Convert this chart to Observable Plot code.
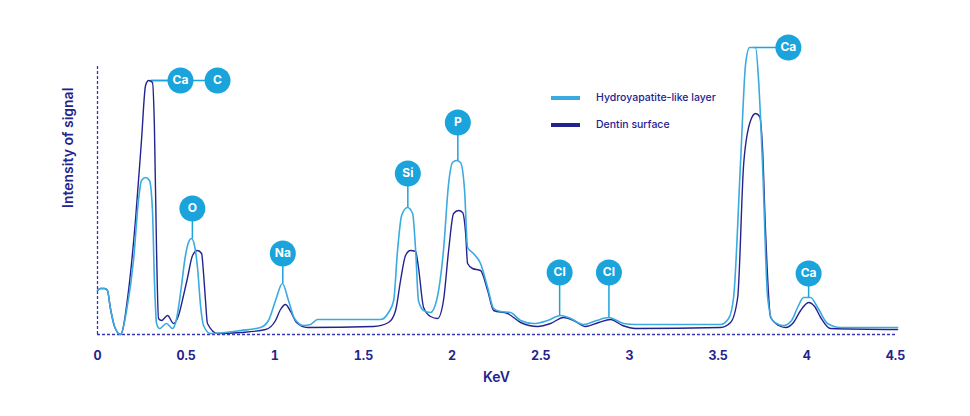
<!DOCTYPE html>
<html>
<head>
<meta charset="utf-8">
<script src="https://cdn.jsdelivr.net/npm/d3@7"></script>
<script src="https://cdn.jsdelivr.net/npm/@observablehq/plot@0.6"></script>
<style>
  html, body { margin: 0; padding: 0; background: #fff; }
  #wrap { position: relative; width: 970px; height: 416px; font-family: Inter, "Open Sans", sans-serif; }
  #legend { position: absolute; left: 551px; top: 84px; font-size: 10.5px; color: #23238f; font-weight: 500; }
  .item { display: flex; align-items: center; height: 27px; }
  .sw { width: 29px; height: 4px; margin-right: 16px; }
</style>
</head>
<body>
<div id="wrap"><div id="legend"></div></div>
<script>
// ---- data ----
const seriesNames = ["Hydroyapatite-like layer", "Dentin surface"];
const seriesColors = ["#3aaae0", "#23238f"];

const lightKeV = [0,0.017,0.039,0.056,0.073,0.096,0.130,0.164,0.203,0.231,0.248,0.271,0.293,0.310,0.321,0.333,0.350,0.389,0.423,0.446,0.468,0.496,0.513,0.530,0.547,0.564,0.581,0.598,0.637,0.807,0.919,0.964,1.004,1.043,1.077,1.111,1.162,1.201,1.241,1.596,1.641,1.670,1.692,1.715,1.748,1.777,1.794,1.810,1.839,1.878,1.912,1.951,1.980,2.002,2.025,2.047,2.070,2.087,2.120,2.160,2.200,2.234,2.273,2.329,2.386,2.459,2.538,2.611,2.668,2.741,2.814,2.882,2.967,3.034,3.514,3.559,3.587,3.626,3.655,3.677,3.711,3.728,3.750,3.779,3.807,3.869,3.914,3.948,3.982,4.021,4.061,4.117,4.191,4.512];
const lightVal = [44,46,46,44,26,8,0,24,74,134,154,157,154,124,54,11,6,11,6,16,41,79,92,96,89,67,29,9,1,4,7,14,34,51,34,16,9,10,15,15,22,34,84,119,127,121,84,34,24,22,34,84,151,172,174,172,144,87,81,71,47,26,23,22,14,11,14,19,16,10,14,17,11,10,10,16,37,171,271,287,287,254,171,37,14,9,14,27,37,37,27,11,7,7];

const darkKeV = [0,0.017,0.039,0.056,0.073,0.096,0.130,0.175,0.214,0.248,0.271,0.288,0.310,0.321,0.333,0.344,0.361,0.395,0.429,0.457,0.485,0.508,0.536,0.564,0.587,0.598,0.609,0.620,0.677,0.807,0.948,1.004,1.032,1.060,1.089,1.122,1.184,1.557,1.641,1.681,1.709,1.737,1.765,1.794,1.810,1.839,1.878,1.918,1.951,1.980,2.008,2.036,2.059,2.076,2.087,2.115,2.160,2.200,2.234,2.313,2.386,2.482,2.555,2.628,2.685,2.752,2.826,2.893,2.961,3.034,3.514,3.570,3.610,3.644,3.683,3.711,3.734,3.750,3.767,3.796,3.841,3.880,3.925,3.965,4.010,4.044,4.078,4.134,4.512];
const darkVal = [44,46,46,44,26,8,0,44,114,194,249,254,252,207,84,16,14,19,11,19,39,57,79,84,81,61,34,11,1,2,5,14,25,30,23,12,7,8,12,24,54,79,84,83,67,27,18,16,34,84,121,124,122,101,71,66,64,44,24,21,12,8,11,17,14,8,12,15,9,6,7,12,37,171,214,221,218,187,104,17,9,7,12,24,32,28,17,6,5];

const xTicks = [0,0.5,1,1.5,2,2.5,3,3.5,4,4.5];

// element labels: circle centre and the peak the stem starts from
const elemNames = ["Ca","C","O","Na","Si","P","Cl","Cl","Ca","Ca"];
const elemKeV   = [0.468,0.677,0.535,1.045,1.750,2.032,2.606,2.884,3.896,4.010];
const elemY     = [254,254,126,81,161,212,62,62,287,61];
const stemKeV   = [0.300,0.300,0.535,1.045,1.750,2.032,2.606,2.884,3.700,4.010];
const stemY     = [254,254,96,51,127,174,19,17,287,37];

// ---- build tables ----
const lines = [
  ...lightKeV.map((k, i) => ({keV: k, v: lightVal[i], s: seriesNames[0]})),
  ...darkKeV.map((k, i) => ({keV: k, v: darkVal[i], s: seriesNames[1]}))
];
const elems = elemNames.map((n, i) => ({name: n, x: elemKeV[i], y: elemY[i], sx: stemKeV[i], sy: stemY[i]}));

const navy = "#23238f";
const blue = "#1ba3db";

const chart = Plot.plot({
  width: 970,
  height: 416,
  marginLeft: 97,
  marginRight: 75,
  marginTop: 47,
  marginBottom: 82,
  style: {fontFamily: "Inter, 'Open Sans', sans-serif", background: "transparent"},
  x: {domain: [0, 4.5], label: null},
  y: {domain: [0, 287], axis: null},
  color: {domain: seriesNames, range: seriesColors},
  marks: [
    Plot.ruleY([0], {stroke: "#3535b5", strokeWidth: 1.3, strokeDasharray: "3,2"}),
    Plot.ruleX([0], {y1: 0, y2: 269, stroke: "#3535b5", strokeWidth: 1.3, strokeDasharray: "3,2"}),
    Plot.axisX({ticks: xTicks, tickSize: 0, tickPadding: 17, fontSize: 12.5, fontWeight: 700, fill: navy, tickFormat: d => String(d)}),
    Plot.text(["KeV"], {frameAnchor: "bottom", dy: 47, fontSize: 14, fontWeight: 600, fill: navy}),
    Plot.text(["Intensity of signal"], {frameAnchor: "left", dx: -29, dy: 17, rotate: -90, fontSize: 14, fontWeight: 600, fill: navy}),
    // stems
    Plot.link(elems, {x1: "sx", y1: "sy", x2: "x", y2: "y", stroke: blue, strokeWidth: 1.5}),
    // spectra
    Plot.line(lines.filter(d => d.s === seriesNames[1]), {x: "keV", y: "v", stroke: seriesColors[1], strokeWidth: 1.4, curve: "monotone-x"}),
    Plot.line(lines.filter(d => d.s === seriesNames[0]), {x: "keV", y: "v", stroke: seriesColors[0], strokeWidth: 1.6, curve: "monotone-x"}),
    // circles
    Plot.dot(elems, {x: "x", y: "y", r: 13, fill: blue, stroke: "white", strokeWidth: 0}),
    Plot.text(elems, {x: "x", y: "y", text: "name", fill: "white", fontSize: 12, fontWeight: 700})
  ]
});
document.getElementById("wrap").prepend(chart);

const legend = document.getElementById("legend");
seriesNames.forEach((n, i) => {
  const it = document.createElement("div");
  it.className = "item";
  it.innerHTML = `<div class="sw" style="background:${seriesColors[i]}"></div><span>${n}</span>`;
  legend.appendChild(it);
});
</script>
</body>
</html>
